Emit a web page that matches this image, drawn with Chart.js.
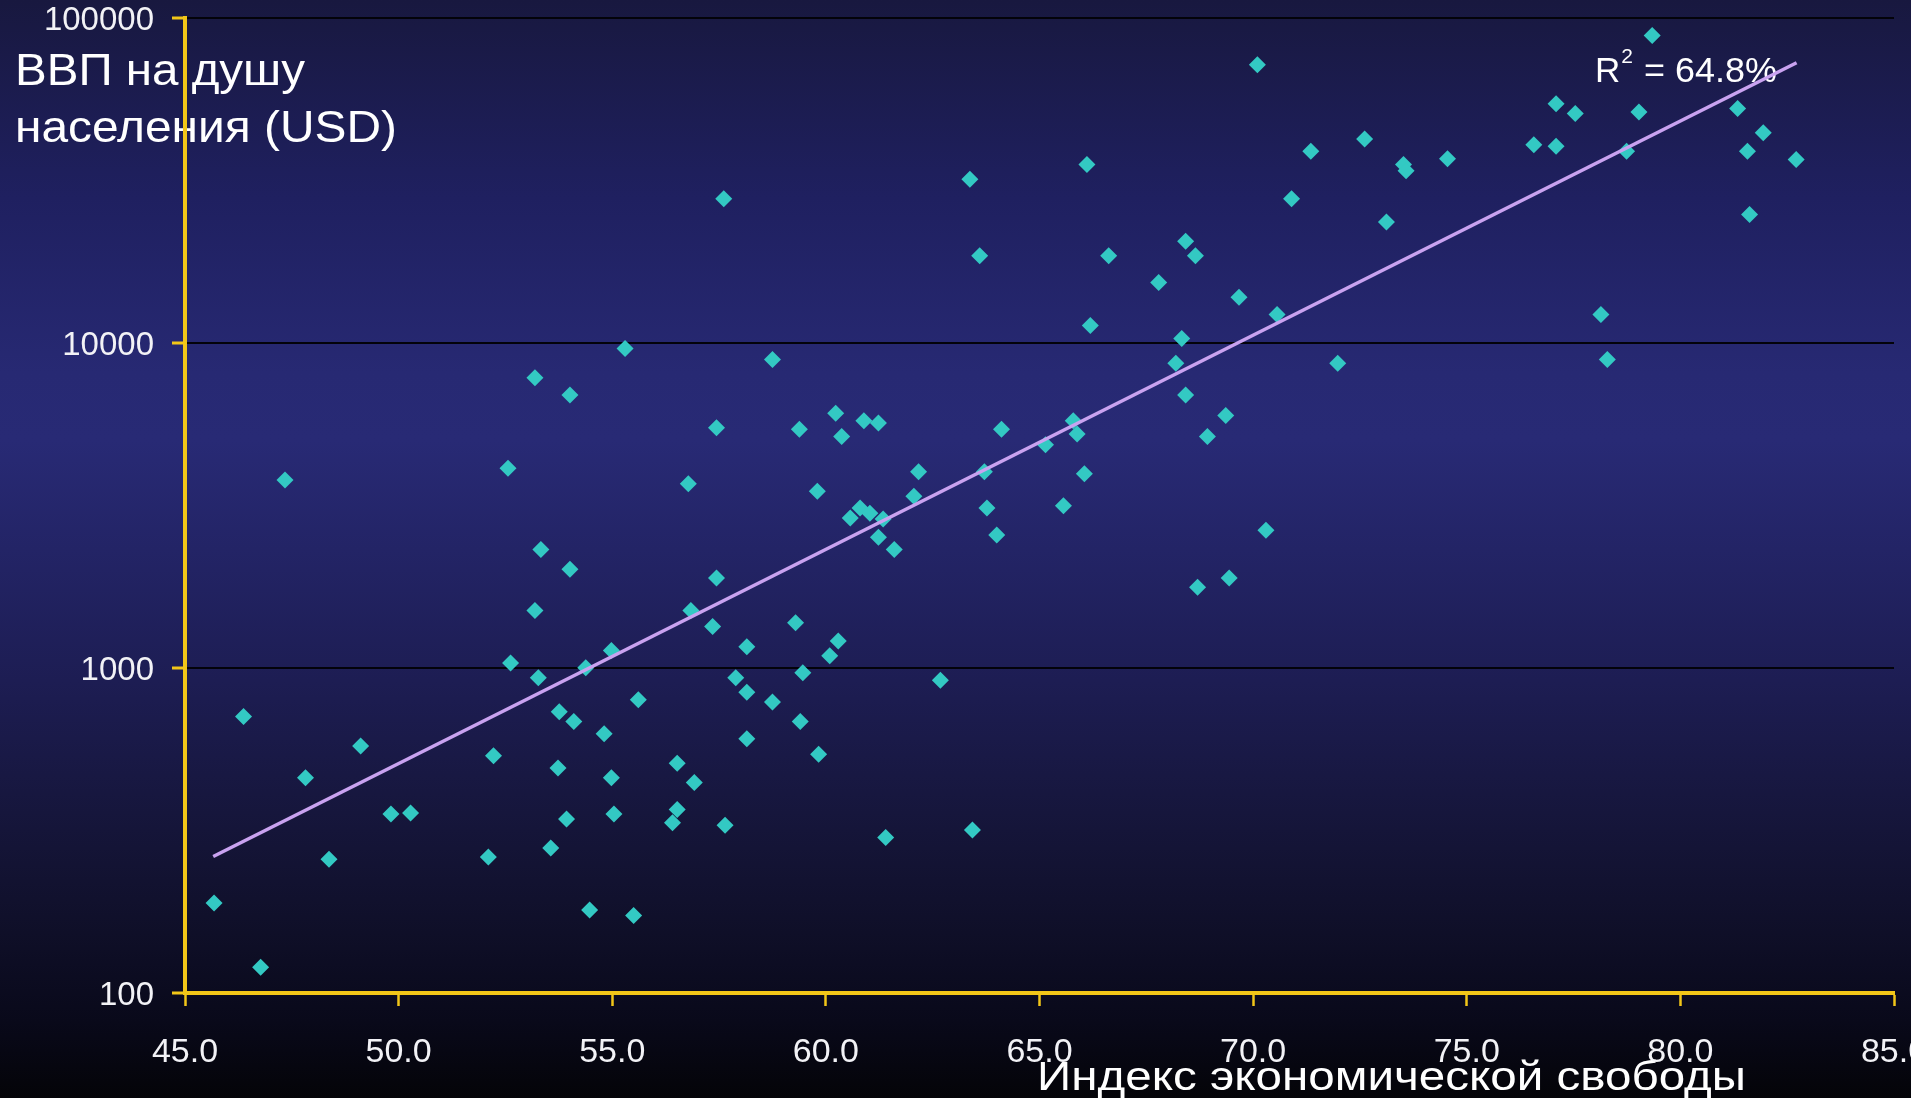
<!DOCTYPE html>
<html>
<head>
<meta charset="utf-8">
<script src="https://cdn.jsdelivr.net/npm/chart.js@4.4.1/dist/chart.umd.min.js"></script>
<style>
  html, body { margin: 0; padding: 0; width: 1911px; height: 1098px; overflow: hidden; }
  body {
    background: linear-gradient(to bottom,
      #18183f 0%, #1f2060 18%, #272973 34%, #282a75 40%, #232466 50%,
      #1d1d53 62%, #16163c 74%, #0f0f28 85%, #09091a 93%, #040408 100%);
  }
  canvas { display: block; }
</style>
</head>
<body>
<canvas id="c" width="1911" height="1098" style="width:1911px;height:1098px"></canvas>
<script>
// ---- data ----
const freedomIndex = [
  45.68, 46.37, 46.77, 47.34, 47.82, 48.37, 49.11, 49.82, 50.28, 52.10,
  52.22, 52.56, 52.62, 53.19, 53.19, 53.27, 53.33, 53.56, 53.73, 53.76,
  53.93, 54.01, 54.01, 54.10, 54.38, 54.47, 54.81, 54.98, 54.98, 55.04,
  55.30, 55.50, 55.61, 56.41, 56.52, 56.52, 56.78, 56.84, 56.92, 57.35,
  57.44, 57.44, 57.61, 57.64, 57.89, 58.15, 58.15, 58.15, 58.75, 58.75,
  59.29, 59.38, 59.40, 59.46, 59.80, 59.83, 60.09, 60.23, 60.29, 60.37,
  60.57, 60.80, 60.89, 61.03, 61.23, 61.23, 61.34, 61.40, 61.60, 62.06,
  62.17, 62.68, 63.37, 63.43, 63.60, 63.71, 63.77, 64.00, 64.11, 65.14,
  65.56, 65.79, 65.88, 66.05, 66.11, 66.19, 66.62, 67.79, 68.19, 68.33,
  68.42, 68.42, 68.65, 68.70, 68.93, 69.36, 69.44, 69.67, 70.10, 70.30,
  70.56, 70.90, 71.35, 71.98, 72.61, 73.12, 73.52, 73.58, 74.55, 76.57,
  77.09, 77.09, 77.54, 78.14, 78.29, 78.74, 79.03, 79.34, 81.34, 81.57,
  81.62, 81.94, 82.71
];
const gdpPerCapita = [
  189, 708, 120, 3780, 459, 258, 575, 355, 358, 262,
  537, 4110, 1035, 7800, 1500, 933, 2310, 279, 492, 733,
  343, 6900, 2010, 684, 1000, 180, 627, 1130, 459, 355,
  9590, 173, 798, 334, 509, 367, 3680, 1500, 444, 1340,
  5470, 1890, 27700, 328, 933, 1160, 841, 605, 8870, 785,
  1375, 5420, 684, 966, 3490, 542, 1090, 6070, 1210, 5150,
  2890, 3100, 5750, 2990, 5660, 2520, 2870, 301, 2310, 3370,
  4010, 916, 31800, 317, 18500, 4010, 3100, 2560, 5420, 4850,
  3150, 5750, 5240, 3950, 35300, 11300, 18500, 15300, 8650, 10300,
  20500, 6900, 18500, 1770, 5150, 5970, 1890, 13800, 71600, 2650,
  12200, 27700, 38800, 8650, 42300, 23500, 35300, 33800, 36800, 40600,
  54300, 40200, 50700, 12200, 8870, 38800, 51200, 88100, 52500, 38800,
  24800, 44200, 36600
];
// trend line end points
const trendX = [45.66, 82.72];
const trendY = [263, 72600];

const xTicks = [45, 50, 55, 60, 65, 70, 75, 80, 85];
const xTickLabels = ['45.0', '50.0', '55.0', '60.0', '65.0', '70.0', '75.0', '80.0', '85.0'];
const yTicks = [100, 1000, 10000, 100000];
const yTickLabels = ['100', '1000', '10000', '100000'];

const yTitleLines = ['ВВП на душу', 'населения (USD)'];
const xTitle = 'Индекс экономической свободы';
const r2Text = { base: 'R', sup: '2', rest: ' = 64.8%' };

// ---- styles ----
const FONT = '"Liberation Sans", Arial, sans-serif';
const YELLOW = '#f2c618';
const POINT = '#33c9c3';
const TREND = '#c9a2f0';
const LABEL = '#f2f2f6';

function drawFitted(ctx, text, x, y, width, size) {
  ctx.font = size + 'px ' + FONT;
  const w = ctx.measureText(text).width;
  ctx.save();
  ctx.translate(x, y);
  ctx.scale(width / w, 1);
  ctx.fillText(text, 0, 0);
  ctx.restore();
}

const textPlugin = {
  id: 'slideTexts',
  beforeDraw(chart) {
    const ctx = chart.ctx;
    const a = chart.chartArea;
    ctx.save();
    ctx.fillStyle = '#ffffff';
    ctx.textAlign = 'left';
    ctx.textBaseline = 'alphabetic';
    // y title
    drawFitted(ctx, yTitleLines[0], 15, 85, 290, 44);
    drawFitted(ctx, yTitleLines[1], 15, 142, 382, 44);
    // x title
    drawFitted(ctx, xTitle, 1037, 1090, 709, 40);
    // R^2 label
    const rx = a.left + 1410, ry = a.top + 64.5;
    ctx.font = '35px ' + FONT;
    ctx.fillText(r2Text.base, rx, ry);
    const wR = ctx.measureText(r2Text.base).width;
    ctx.font = '21px ' + FONT;
    ctx.fillText(r2Text.sup, rx + wR + 1, ry - 19);
    const wS = ctx.measureText(r2Text.sup).width;
    drawFitted(ctx, r2Text.rest, rx + wR + wS + 2, ry, 143, 35);
    ctx.restore();
  }
};

const points = freedomIndex.map((x, i) => ({ x: x, y: gdpPerCapita[i] }));
const trend = trendX.map((x, i) => ({ x: x, y: trendY[i] }));

new Chart(document.getElementById('c'), {
  type: 'scatter',
  data: {
    datasets: [
      {
        type: 'line',
        data: trend,
        borderColor: TREND,
        borderWidth: 3.5,
        pointRadius: 0,
        fill: false,
        order: 0
      },
      {
        data: points,
        pointStyle: 'rectRot',
        pointRadius: 8.5,
        pointHoverRadius: 8.5,
        pointBackgroundColor: POINT,
        pointBorderWidth: 0,
        backgroundColor: POINT,
        borderColor: POINT,
        order: 1
      }
    ]
  },
  options: {
    responsive: false,
    devicePixelRatio: 1,
    animation: false,
    events: [],
    layout: { padding: { left: 0, top: 17.5, right: 17, bottom: 0 } },
    plugins: { legend: { display: false }, tooltip: { enabled: false }, title: { display: false } },
    scales: {
      x: {
        type: 'linear',
        min: 45, max: 85,
        afterBuildTicks: s => { s.ticks = xTicks.map(v => ({ value: v })); },
        afterFit: s => { s.height = 105; s.paddingLeft = 0; s.paddingRight = 0; },
        border: { display: true, color: YELLOW, width: 4 },
        grid: { drawOnChartArea: false, drawTicks: true, tickLength: 13, tickColor: YELLOW, tickWidth: 2.5 },
        ticks: {
          autoSkip: false, maxRotation: 0, minRotation: 0,
          padding: 26,
          color: LABEL,
          font: { family: FONT, size: 34 },
          callback: (v, i) => xTickLabels[i]
        }
      },
      y: {
        type: 'logarithmic',
        min: 100, max: 100000,
        afterBuildTicks: s => { s.ticks = yTicks.map(v => ({ value: v })); },
        afterFit: s => { s.width = 185; s.paddingTop = 0; s.paddingBottom = 0; },
        border: { display: true, color: YELLOW, width: 4 },
        grid: {
          drawOnChartArea: true,
          color: c => (c.tick && c.tick.value === 100) ? 'rgba(0,0,0,0)' : '#03030a',
          lineWidth: 2,
          drawTicks: true, tickLength: 13, tickColor: YELLOW, tickWidth: 3
        },
        ticks: {
          padding: 18,
          labelOffset: 3,
          color: LABEL,
          font: { family: FONT, size: 33 },
          callback: (v, i) => yTickLabels[i]
        }
      }
    }
  },
  plugins: [textPlugin]
});
</script>
</body>
</html>
